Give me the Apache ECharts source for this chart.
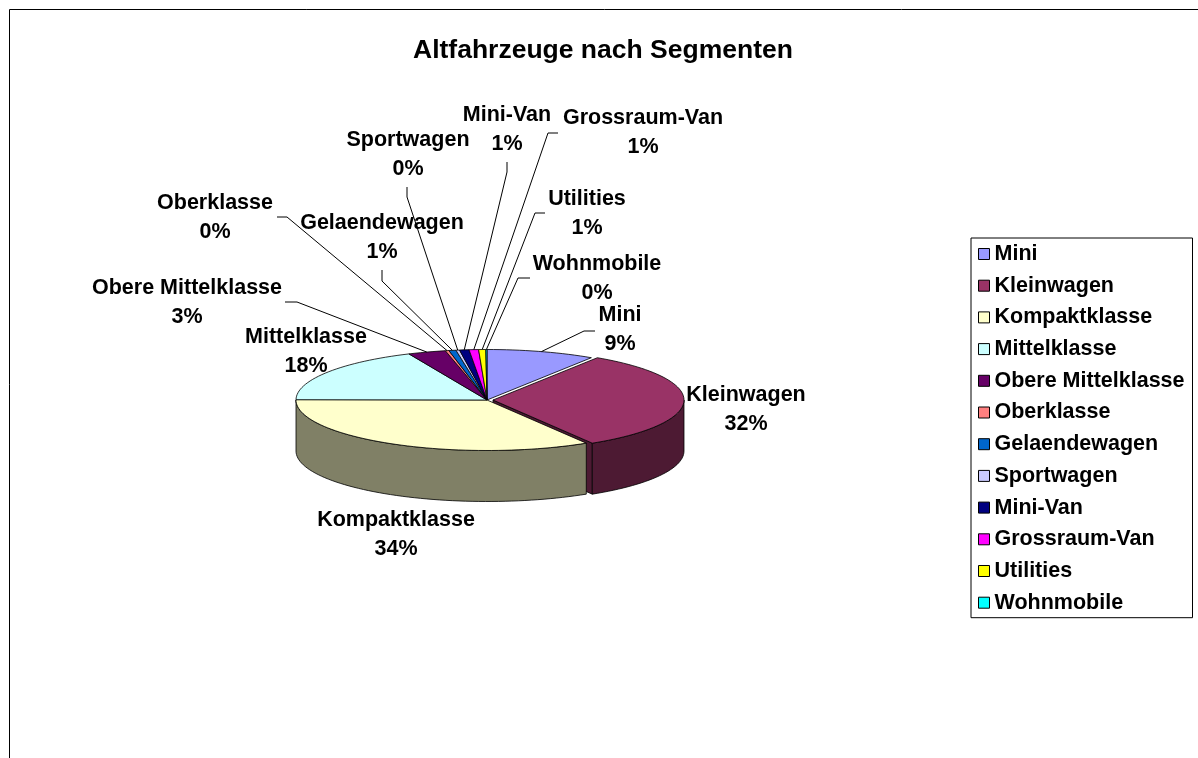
<!DOCTYPE html>
<html>
<head>
<meta charset="utf-8">
<title>Altfahrzeuge nach Segmenten</title>
<script src="https://cdn.jsdelivr.net/npm/echarts/dist/echarts.min.js"></script>
<style>
  html, body { margin: 0; padding: 0; background: #fff; }
  #chart { width: 1198px; height: 758px; }
</style>
</head>
<body>
<div id="chart"></div>
<script>
// data (percent shares, rounded labels in the chart)
const categories = ['Mini', 'Kleinwagen', 'Kompaktklasse', 'Mittelklasse', 'Obere Mittelklasse',
  'Oberklasse', 'Gelaendewagen', 'Sportwagen', 'Mini-Van', 'Grossraum-Van', 'Utilities', 'Wohnmobile'];
const shares = [9.2, 32.1, 33.8, 18.2, 3.2, 0.3, 0.6, 0.3, 0.8, 0.8, 0.6, 0.1];

// styling
const colors = ['#9999ff', '#993366', '#ffffcc', '#ccffff', '#660066', '#ff8080',
  '#0066cc', '#ccccff', '#000080', '#ff00ff', '#ffff00', '#00ffff'];
const explode = [0, 6, 0, 0, 0, 0, 0, 0, 0, 0, 0, 0];
const pie = { cx: 487, cy: 400, rx: 191, ry: 50.5, depth: 51 };
const FONT = '"Liberation Sans", Arial, sans-serif';

// label block centres and leader line start/elbow (layout only)
const labelLayout = [
  { x: 620, y: 330, line: [[595, 331], [584, 331]] },
  { x: 746, y: 410, line: null },
  { x: 396, y: 535, line: null },
  { x: 306, y: 352, line: null },
  { x: 187, y: 303, line: [[285, 302], [297, 302]] },
  { x: 215, y: 218, line: [[277, 217], [287, 217]] },
  { x: 382, y: 238, line: [[382, 270], [382, 281]] },
  { x: 408, y: 155, line: [[407, 187], [407, 197]] },
  { x: 507, y: 130, line: [[507, 162], [507, 172]] },
  { x: 643, y: 133, line: [[558, 133], [548, 133]] },
  { x: 587, y: 214, line: [[545, 213], [535, 213]] },
  { x: 597, y: 279, line: [[530, 278], [518, 278]] }
];

const total = shares.reduce((a, b) => a + b, 0);
const starts = [];
let acc = 0;
shares.forEach(v => { starts.push(acc / total * 360); acc += v; });

function darken(hex) {
  const n = parseInt(hex.slice(1), 16);
  const r = (n >> 16) & 255, g = (n >> 8) & 255, b = n & 255;
  return 'rgb(' + Math.round(r * 0.5) + ',' + Math.round(g * 0.5) + ',' + Math.round(b * 0.5) + ')';
}

// angle measured clockwise from 12 o'clock, projected onto the tilted ellipse
function rim(deg, off, dy) {
  const t = deg * Math.PI / 180;
  return [pie.cx + off[0] + pie.rx * Math.sin(t), pie.cy + off[1] - pie.ry * Math.cos(t) + (dy || 0)];
}

function arcPts(a, b, off, dy) {
  const n = Math.max(2, Math.ceil((b - a) / 2));
  const pts = [];
  for (let k = 0; k <= n; k++) pts.push(rim(a + (b - a) * k / n, off, dy));
  return pts;
}

function renderSlice(i) {
  return function (params, api) {
    const a = starts[i];
    const b = a + api.value(0) / total * 360;
    const mid = (a + b) / 2 * Math.PI / 180;
    const off = [explode[i] * Math.sin(mid), -explode[i] * pie.ry / pie.rx * Math.cos(mid)];
    const c = [pie.cx + off[0], pie.cy + off[1]];
    const cd = [c[0], c[1] + pie.depth];
    const side = darken(colors[i]);
    const edge = { stroke: '#000', lineWidth: 0.8 };
    const children = [];

    // cut faces of an exploded slice, only where they face the viewer
    if (explode[i] > 0) {
      if (Math.sin(b * Math.PI / 180) > 0) {
        const p = rim(b, off, 0), pd = rim(b, off, pie.depth);
        children.push({ type: 'polygon', shape: { points: [c, p, pd, cd] },
          style: Object.assign({ fill: side }, edge) });
      }
      if (Math.sin(a * Math.PI / 180) < 0) {
        const p = rim(a, off, 0), pd = rim(a, off, pie.depth);
        children.push({ type: 'polygon', shape: { points: [c, p, pd, cd] },
          style: Object.assign({ fill: side }, edge) });
      }
    }

    // outer wall on the front half
    const fa = Math.max(a, 90), fb = Math.min(b, 270);
    if (fb > fa) {
      const up = arcPts(fa, fb, off, 0);
      const dn = arcPts(fa, fb, off, pie.depth).reverse();
      children.push({ type: 'polygon', shape: { points: up.concat(dn) },
        style: Object.assign({ fill: side }, edge) });
    }

    // top face
    children.push({ type: 'polygon', shape: { points: [c].concat(arcPts(a, b, off, 0)) },
      style: Object.assign({ fill: colors[i] }, edge) });

    // leader line and label
    const lay = labelLayout[i];
    if (lay.line) {
      const end = rim((a + b) / 2, off, 0);
      children.push({ type: 'polyline', shape: { points: lay.line.concat([end]) },
        style: { stroke: '#000', lineWidth: 1, fill: null } });
    }
    children.push({
      type: 'text',
      style: {
        text: categories[i] + '\n' + Math.round(api.value(0) / total * 100) + '%',
        x: lay.x, y: lay.y, align: 'center', verticalAlign: 'middle',
        font: 'bold 21.5px ' + FONT, lineHeight: 29, fill: '#000'
      }
    });
    return { type: 'group', children: children };
  };
}

const chart = echarts.init(document.getElementById('chart'));
chart.setOption({
  backgroundColor: '#fff',
  animation: false,
  title: {
    text: 'Altfahrzeuge nach Segmenten',
    left: 408,
    top: 32,
    textStyle: { fontFamily: FONT, fontWeight: 'bold', fontSize: 26.5, color: '#000' }
  },
  legend: {
    orient: 'vertical',
    left: 971,
    top: 238,
    icon: 'rect',
    itemWidth: 11,
    itemHeight: 11,
    itemGap: 9.7,
    padding: [5, 8, 4, 7],
    borderColor: '#000',
    borderWidth: 1,
    selectedMode: false,
    itemStyle: { borderColor: '#000', borderWidth: 1 },
    textStyle: { fontFamily: FONT, fontWeight: 'bold', fontSize: 21.5, lineHeight: 21, color: '#000' },
    data: categories
  },
  graphic: [{
    type: 'rect',
    shape: { x: 9.5, y: 9.5, width: 1300, height: 900 },
    style: { fill: 'none', stroke: '#000', lineWidth: 1 },
    silent: true
  }],
  series: categories.map((name, i) => ({
    type: 'custom',
    name: name,
    coordinateSystem: 'none',
    itemStyle: { color: colors[i] },
    data: [[shares[i]]],
    renderItem: renderSlice(i)
  }))
});
</script>
</body>
</html>
